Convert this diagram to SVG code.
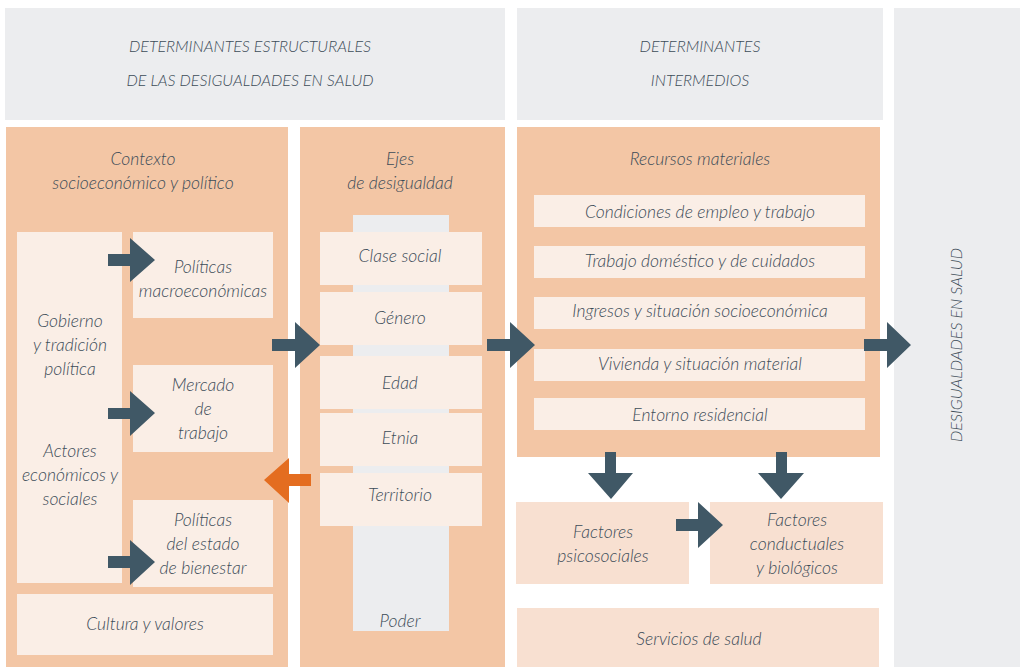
<svg xmlns="http://www.w3.org/2000/svg" width="1020" height="667" viewBox="0 0 1020 667">
<style>
.hdr{fill:#ECEDEF}
.pnl{fill:#F3C6A5}
.box{fill:#FAEEE6}
.fac{fill:#F8E0D1}
.bar{fill:#ECEDEF}
text{font-family:"Lato","Liberation Sans",sans-serif;font-style:italic;font-weight:300;font-size:17.5px;fill:#3C4C58;text-anchor:middle}
.cap{font-size:16px}
.arr{fill:#405866}
.oarr{fill:#E46D20}
</style>
<rect width="1020" height="667" fill="#FFFFFF"/>
<g id="header-estructurales">
<rect class="hdr" x="5" y="8" width="500" height="112"/>
<text class="cap" x="250" y="46" dy="0.35em">DETERMINANTES ESTRUCTURALES</text>
<text class="cap" x="250" y="80" dy="0.35em">DE LAS DESIGUALDADES EN SALUD</text>
</g>
<g id="header-intermedios">
<rect class="hdr" x="517" y="8" width="366" height="112"/>
<text class="cap" x="700" y="46" dy="0.35em">DETERMINANTES</text>
<text class="cap" x="700" y="80" dy="0.35em">INTERMEDIOS</text>
</g>
<g id="desigualdades-salud">
<rect class="hdr" x="894" y="8" width="126" height="659"/>
<text class="cap" transform="translate(956,345) rotate(-90)" dy="0.35em">DESIGUALDADES EN SALUD</text>
</g>
<g id="contexto">
<rect class="pnl" x="6" y="127" width="282" height="540"/>
<text x="143" y="159" dy="0.35em">Contexto</text>
<text x="143" y="183" dy="0.35em">socioeconómico y político</text>
</g>
<g id="gobierno-actores">
<rect class="box" x="17" y="232" width="105" height="351"/>
<text x="70" y="321" dy="0.35em">Gobierno</text>
<text x="70" y="345" dy="0.35em">y tradición</text>
<text x="70" y="369" dy="0.35em">política</text>
<text x="70" y="451" dy="0.35em">Actores</text>
<text x="70" y="475" dy="0.35em">económicos y</text>
<text x="70" y="499" dy="0.35em">sociales</text>
</g>
<g id="politicas-macro">
<rect class="box" x="133" y="232" width="140" height="86"/>
<text x="203" y="267" dy="0.35em">Políticas</text>
<text x="203" y="291" dy="0.35em">macroeconómicas</text>
</g>
<g id="mercado-trabajo">
<rect class="box" x="133" y="365" width="140" height="87"/>
<text x="203" y="385" dy="0.35em">Mercado</text>
<text x="203" y="409" dy="0.35em">de</text>
<text x="203" y="433" dy="0.35em">trabajo</text>
</g>
<g id="politicas-bienestar">
<rect class="box" x="133" y="500" width="140" height="87"/>
<text x="203" y="520" dy="0.35em">Políticas</text>
<text x="203" y="544" dy="0.35em">del estado</text>
<text x="203" y="568" dy="0.35em">de bienestar</text>
</g>
<g id="cultura-valores">
<rect class="box" x="17" y="594" width="256" height="61"/>
<text x="145" y="624" dy="0.35em">Cultura y valores</text>
</g>
<g id="ejes">
<rect class="pnl" x="300" y="127" width="205" height="540"/>
<text x="400" y="159" dy="0.35em">Ejes</text>
<text x="400" y="183" dy="0.35em">de desigualdad</text>
<rect class="bar" x="353" y="215" width="96" height="416"/>
<text x="400" y="621" dy="0.35em">Poder</text>
</g>
<g id="clase-social"><rect class="box" x="320" y="232" width="162" height="53"/><text x="400" y="256" dy="0.35em">Clase social</text></g>
<g id="genero"><rect class="box" x="320" y="292" width="162" height="53"/><text x="400" y="318" dy="0.35em">Género</text></g>
<g id="edad"><rect class="box" x="320" y="356" width="162" height="53"/><text x="400" y="383" dy="0.35em">Edad</text></g>
<g id="etnia"><rect class="box" x="320" y="413" width="162" height="53"/><text x="400" y="438" dy="0.35em">Etnia</text></g>
<g id="territorio"><rect class="box" x="320" y="473" width="162" height="53"/><text x="400" y="495" dy="0.35em">Territorio</text></g>
<g id="recursos-materiales">
<rect class="pnl" x="517" y="127" width="363" height="330"/>
<text x="700" y="159" dy="0.35em">Recursos materiales</text>
</g>
<g id="condiciones"><rect class="box" x="534" y="195" width="331" height="32"/><text x="700" y="212" dy="0.35em">Condiciones de empleo y trabajo</text></g>
<g id="trabajo-domestico"><rect class="box" x="534" y="246" width="331" height="32"/><text x="700" y="261" dy="0.35em">Trabajo doméstico y de cuidados</text></g>
<g id="ingresos"><rect class="box" x="534" y="297" width="331" height="32"/><text x="700" y="311" dy="0.35em">Ingresos y situación socioeconómica</text></g>
<g id="vivienda"><rect class="box" x="534" y="349" width="331" height="32"/><text x="700" y="364" dy="0.35em">Vivienda y situación material</text></g>
<g id="entorno"><rect class="box" x="534" y="398" width="331" height="32"/><text x="700" y="415" dy="0.35em">Entorno residencial</text></g>
<g id="factores-psicosociales">
<rect class="fac" x="516" y="502" width="173" height="82"/>
<text x="603" y="532" dy="0.35em">Factores</text>
<text x="603" y="556" dy="0.35em">psicosociales</text>
</g>
<g id="factores-conductuales">
<rect class="fac" x="710" y="502" width="173" height="82"/>
<text x="797" y="520" dy="0.35em">Factores</text>
<text x="797" y="544" dy="0.35em">conductuales</text>
<text x="797" y="568" dy="0.35em">y biológicos</text>
</g>
<g id="servicios-salud">
<rect class="fac" x="517" y="608" width="362" height="59"/>
<text x="699" y="639" dy="0.35em">Servicios de salud</text>
</g>
<g id="connectors">
<polygon class="arr" points="108,254 130,254 130,238 155,260 130,282 130,266 108,266"/>
<polygon class="arr" points="108,408 130,408 130,391 155,413 130,436 130,419 108,419"/>
<polygon class="arr" points="108,556 130,556 130,540 155,562 130,585 130,568 108,568"/>
<polygon class="oarr" points="311,474 289,474 289,458 264,480 289,503 289,486 311,486"/>
<polygon class="arr" points="272,339 295,339 295,322 320,345 295,368 295,351 272,351"/>
<polygon class="arr" points="487,339 510,339 510,322 535,345 510,368 510,351 487,351"/>
<polygon class="arr" points="864,339 887,339 887,322 911,345 887,368 887,351 864,351"/>
<polygon class="arr" points="605,452 616,452 616,473 633,473 611,499 588,473 605,473"/>
<polygon class="arr" points="776,452 787,452 787,473 804,473 781,499 758,473 776,473"/>
<polygon class="arr" points="676,519 698,519 698,502 723,525 698,548 698,531 676,531"/>
</g>
</svg>
